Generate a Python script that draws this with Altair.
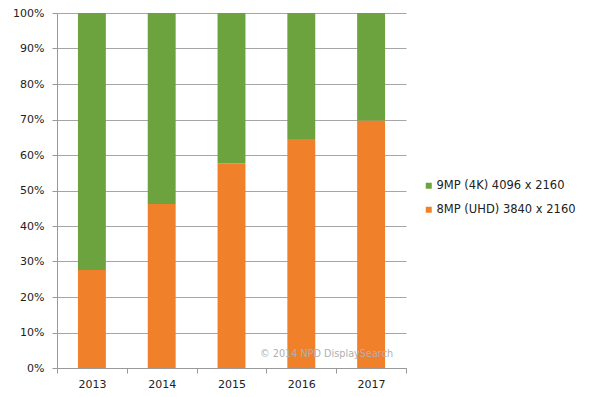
import altair as alt
import pandas as pd

years = ["2013", "2014", "2015", "2016", "2017"]
uhd_share = [0.276, 0.462, 0.576, 0.645, 0.697]  # 8MP (UHD) 3840 x 2160
series_4k = "9MP (4K) 4096 x 2160"
series_uhd = "8MP (UHD) 3840 x 2160"
colors = ["#6ca33f", "#f0802a"]
y_ticks = [0, 0.1, 0.2, 0.3, 0.4, 0.5, 0.6, 0.7, 0.8, 0.9, 1.0]
watermark = "© 2014 NPD DisplaySearch"

rows = []
for y, u in zip(years, uhd_share):
    rows.append({"year": y, "series": series_uhd, "share": u, "ord": 0})
    rows.append({"year": y, "series": series_4k, "share": round(1 - u, 4), "ord": 1})
df = pd.DataFrame(rows)

FONT = "DejaVu Sans"

x_axis = alt.Axis(
    labelAngle=0, labelFontSize=11, labelFont=FONT, labelColor="#222",
    tickBand="extent", tickSize=5, tickColor="#999", domainColor="#999",
    labelPadding=5, grid=False,
)
y_axis = alt.Axis(
    format=".0%", values=y_ticks,
    labelFontSize=11, labelFont=FONT, labelColor="#222",
    labelOverlap=False, labelFlush=False,
    tickSize=5, tickColor="#999", domainColor="#999",
    gridColor="#a6a6a6", labelPadding=8,
)
x_scale = alt.Scale(paddingInner=0, paddingOuter=0)
y_scale = alt.Scale(domain=[0, 1], nice=False)

bars = alt.Chart(df).mark_bar(width=alt.RelativeBandSize(0.4)).encode(
    x=alt.X("year:N", sort=years, title=None, scale=x_scale, axis=x_axis),
    y=alt.Y("share:Q", stack="zero", title=None, scale=y_scale, axis=y_axis),
    color=alt.Color(
        "series:N",
        scale=alt.Scale(domain=[series_4k, series_uhd], range=colors),
        legend=alt.Legend(
            title=None, orient="none", legendX=366, legendY=167,
            symbolType="square", symbolSize=36, symbolStrokeWidth=0,
            labelFontSize=11.5, labelFont=FONT, labelColor="#222",
            labelOffset=2, rowPadding=11, padding=0, labelLimit=300,
        ),
    ),
    order=alt.Order("ord:Q", sort="ascending"),
)

wm = alt.Chart(pd.DataFrame({"year": ["2017"], "share": [0.04], "t": [watermark]})).mark_text(
    align="right", baseline="middle", dx=22, fontSize=9.7, font=FONT, color="#b0b0b0"
).encode(
    x=alt.X("year:N", sort=years, title=None, scale=x_scale, axis=x_axis),
    y=alt.Y("share:Q", title=None, scale=y_scale, axis=y_axis),
    text="t:N",
)

chart = alt.layer(bars, wm).properties(
    width=349, height=355,
    autosize=alt.AutoSizeParams(type="none"),
    padding={"left": 49, "top": 5, "right": 178, "bottom": 22},
).configure_view(stroke=None)

chart.save("out.html", embed_options={"renderer": "svg", "actions": False})
